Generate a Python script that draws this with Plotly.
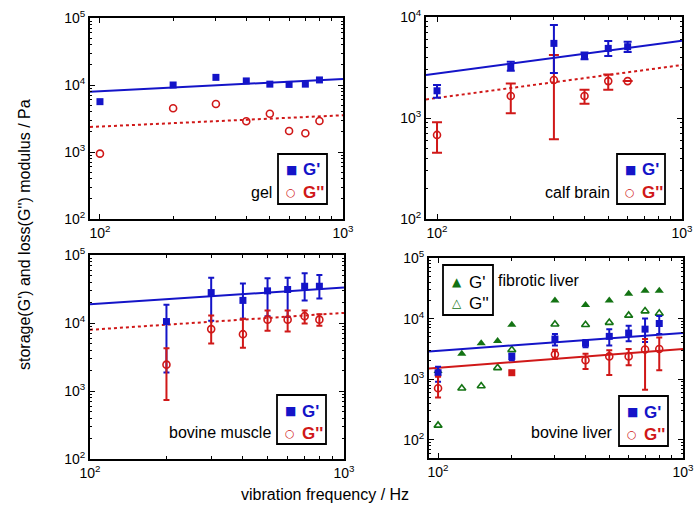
import numpy as np
import plotly.graph_objects as go

W, H = 698, 514
BLUE = "#1414C8"
RED = "#D01818"
GREEN = "#137313"
FONT = "Liberation Sans, Arial, Helvetica, sans-serif"

# ---------------- data ----------------
# gel
gel_freq = [100, 200, 300, 400, 500, 600, 700, 800]
gel_Gp = [5640, 10000, 13000, 11500, 10300, 10200, 10300, 11900]
gel_Gpp = [945, 4490, 5200, 2870, 3730, 2060, 1900, 2900]
gel_fit_Gp = (8070, 0.183)     # value at 100 Hz, exponent
gel_fit_Gpp = (2400, 0.168)

# calf brain
brain_freq = [100, 200, 300, 400, 500, 600]
brain_Gp = [1860, 3220, 5480, 4110, 4890, 5080]
brain_Gp_hi = [2120, 3610, 8330, 4440, 5800, 5700]
brain_Gp_lo = [1590, 2940, 2790, 3810, 4100, 4500]
brain_Gpp = [680, 1650, 2380, 1650, 2320, 2320]
brain_Gpp_hi = [906, 2200, 4200, 1900, 2700, 2320]
brain_Gpp_lo = [454, 1115, 615, 1380, 1900, 2320]
brain_fit_Gp = (2760, 0.324)
brain_fit_Gpp = (1580, 0.326)

# bovine muscle
muscle_freq = [200, 300, 400, 500, 600, 700, 800]
muscle_Gp = [10500, 28000, 21500, 29700, 31100, 34700, 34700]
muscle_Gp_hi = [18600, 46400, 38200, 45400, 46400, 53700, 51000]
muscle_Gp_lo = [1875, 10800, 11500, 12600, 12300, 21400, 23000]
muscle_Gpp = [2440, 8130, 6850, 11200, 11200, 12600, 11200]
muscle_Gpp_hi = [4240, 12860, 11500, 15300, 15300, 15300, 13500]
muscle_Gpp_lo = [735, 4980, 4340, 7670, 7500, 9800, 9100]
muscle_fit_Gp = (18800, 0.248)
muscle_fit_Gpp = (7940, 0.249)

# bovine liver
liver_Gp_freq = [100, 200, 300, 400, 500, 600, 700, 800]
liver_Gp = [1280, 2380, 4600, 3920, 5090, 5770, 6700, 8300]
liver_Gp_hi = [1600, 2630, 5560, 4440, 6700, 7600, 10000, 11000]
liver_Gp_lo = [910, 2050, 3600, 3370, 3600, 4230, 4100, 5560]
liver_Gpp_freq = [100, 300, 400, 500, 600, 700, 800]
liver_Gpp = [708, 2570, 2050, 2380, 2380, 3090, 3160]
liver_Gpp_hi = [1100, 3050, 2630, 3000, 3160, 4600, 4900]
liver_Gpp_lo = [500, 2180, 1470, 1170, 1700, 667, 1410]
liver_Gpp_sq_freq = [200]
liver_Gpp_sq = [1280]
liver_fit_Gp = (2940, 0.293)
liver_fit_Gpp = (1540, 0.312)

# fibrotic liver
fib_freq = [100, 125, 150, 175, 200, 300, 400, 500, 600, 700, 800]
fib_Gp = [1360, 2630, 3920, 4280, 7900, 19900, 16700, 19900, 25800, 28800, 28800]
fib_Gpp = [173, 708, 774, 1540, 3050, 8070, 7900, 8600, 11300, 13300, 12200]

x_tickvals = [100, 1000]
x_ticktext = ["10<sup>2</sup>", "10<sup>3</sup>"]

# ---------------- layout helpers ----------------
def px(x):
    return x / W

def py(y):
    return 1 - y / H

panels = [
    dict(box=(90, 343, 18, 219), xr=[1.959, 3], yr=[2, 5], yexp=[2, 3, 4, 5]),
    dict(box=(426, 682, 17, 219), xr=[1.955, 3], yr=[2, 4], yexp=[2, 3, 4]),
    dict(box=(90, 344, 255, 459), xr=[2.0, 3], yr=[2, 5], yexp=[2, 3, 4, 5]),
    dict(box=(429, 683, 258, 458), xr=[1.963, 3], yr=[1.7, 5.0], yexp=[2, 3, 4, 5]),
]

fig = go.Figure()

def err(val, hi, lo):
    v = np.array(val, float)
    return np.array(hi, float) - v, v - np.array(lo, float)

def add_points(i, x, y, symbol, color, size, open_=False, hi=None, lo=None, capw=3):
    ax = "" if i == 1 else str(i)
    kw = {}
    if hi is not None:
        up, dn = err(y, hi, lo)
        kw["error_y"] = dict(type="data", symmetric=False, array=up, arrayminus=dn,
                             color=color, thickness=2, width=capw)
    marker = dict(symbol=symbol, size=size, color=color)
    if open_:
        marker["line"] = dict(color=color, width=1.6)
    else:
        marker["line"] = dict(width=0)
    fig.add_trace(go.Scatter(x=x, y=y, mode="markers", marker=marker,
                             xaxis="x" + ax, yaxis="y" + ax, showlegend=False, **kw))

def add_fit(i, fit, color, dash):
    ax = "" if i == 1 else str(i)
    xr = panels[i - 1]["xr"]
    f = np.logspace(xr[0], xr[1], 60)
    a, n = fit
    fig.add_trace(go.Scatter(x=f, y=a * (f / 100.0) ** n, mode="lines",
                             line=dict(color=color, width=2, dash=dash),
                             xaxis="x" + ax, yaxis="y" + ax, showlegend=False,
                             hoverinfo="skip"))

# panel 1: gel
add_fit(1, gel_fit_Gp, BLUE, "solid")
add_fit(1, gel_fit_Gpp, RED, "dot")
add_points(1, gel_freq, gel_Gp, "square", BLUE, 7)
add_points(1, gel_freq, gel_Gpp, "circle-open", RED, 7, open_=True)

# panel 2: calf brain
add_fit(2, brain_fit_Gp, BLUE, "solid")
add_fit(2, brain_fit_Gpp, RED, "dot")
add_points(2, brain_freq, brain_Gpp, "circle-open", RED, 7, open_=True, hi=brain_Gpp_hi, lo=brain_Gpp_lo, capw=5)
add_points(2, brain_freq, brain_Gp, "square", BLUE, 7, hi=brain_Gp_hi, lo=brain_Gp_lo, capw=4)

# panel 3: bovine muscle
add_fit(3, muscle_fit_Gp, BLUE, "solid")
add_fit(3, muscle_fit_Gpp, RED, "dot")
add_points(3, muscle_freq, muscle_Gp, "square", BLUE, 7, hi=muscle_Gp_hi, lo=muscle_Gp_lo, capw=3)
add_points(3, muscle_freq, muscle_Gpp, "circle-open", RED, 7, open_=True, hi=muscle_Gpp_hi, lo=muscle_Gpp_lo, capw=3)

# panel 4: liver
add_points(4, fib_freq, fib_Gp, "triangle-up", GREEN, 8)
add_points(4, fib_freq, fib_Gpp, "triangle-up-open", GREEN, 7, open_=True)
add_fit(4, liver_fit_Gp, BLUE, "solid")
add_fit(4, liver_fit_Gpp, RED, "solid")
add_points(4, liver_Gp_freq, liver_Gp, "square", BLUE, 7, hi=liver_Gp_hi, lo=liver_Gp_lo, capw=3)
add_points(4, liver_Gpp_freq, liver_Gpp, "circle-open", RED, 7, open_=True, hi=liver_Gpp_hi, lo=liver_Gpp_lo, capw=3)
add_points(4, liver_Gpp_sq_freq, liver_Gpp_sq, "square", RED, 7)

# ---------------- axes ----------------
layout = dict(width=W, height=H, margin=dict(l=0, r=0, t=0, b=0, autoexpand=False),
              paper_bgcolor="white", plot_bgcolor="white", hovermode=False,
              font=dict(family=FONT, size=14, color="black"))

x_minor = [200, 300, 400, 500, 600, 700, 800, 900]
for i, p in enumerate(panels, start=1):
    x0, x1, y0, y1 = p["box"]
    ax = "" if i == 1 else str(i)
    yt = [10 ** e for e in p["yexp"]]
    ytt = ["10<sup>%d</sup>" % e for e in p["yexp"]]
    lo_e = int(np.floor(p["yr"][0]))
    hi_e = int(np.ceil(p["yr"][1]))
    y_minor = [m * 10 ** e for e in range(lo_e, hi_e) for m in range(2, 10)]
    common = dict(type="log", showgrid=False, zeroline=False, showline=True,
                  linecolor="black", linewidth=2, mirror="allticks", automargin=False,
                  ticks="inside", ticklen=5, tickwidth=1, tickcolor="black",
                  tickfont=dict(family=FONT, size=14, color="black"))
    layout["xaxis" + ax] = dict(common, domain=[px(x0), px(x1)], range=p["xr"],
                                anchor="y" + ax, tickmode="array",
                                tickvals=x_tickvals, ticktext=x_ticktext,
                                minor=dict(tickmode="array", tickvals=x_minor,
                                           ticks="inside", ticklen=3, tickcolor="black"))
    layout["yaxis" + ax] = dict(common, domain=[py(y1), py(y0)], range=p["yr"],
                                anchor="x" + ax, tickmode="array",
                                tickvals=yt, ticktext=ytt,
                                minor=dict(tickmode="array", tickvals=y_minor,
                                           ticks="inside", ticklen=2, tickcolor="black"))

fig.update_layout(**layout)

# ---------------- legend boxes (shapes + glyph/text annotations) ----------------
shapes = []
annotations = []

def legend_box(x0, x1, y0, y1):
    shapes.append(dict(type="rect", xref="paper", yref="paper",
                       x0=px(x0), x1=px(x1), y0=py(y1), y1=py(y0),
                       line=dict(color="black", width=1.8), fillcolor="white", layer="above"))

def glyph(x, y, ch, color, size):
    annotations.append(dict(x=px(x), y=py(y), xref="paper", yref="paper", text=ch,
                            showarrow=False, xanchor="center", yanchor="middle",
                            font=dict(family="DejaVu Sans", size=size, color=color)))

def label(x, y, txt, color="black", anchor="left", size=16, bold=False):
    t = "<b>%s</b>" % txt if bold else txt
    annotations.append(dict(x=px(x), y=py(y), xref="paper", yref="paper", text=t,
                            showarrow=False, xanchor=anchor, yanchor="middle",
                            font=dict(family=FONT, size=size, color=color)))

def gg_legend(x0, x1, y0, y1):
    legend_box(x0, x1, y0, y1)
    glyph(x0 + 13, y0 + 16, "■", BLUE, 12)
    glyph(x0 + 13, y0 + 38, "○", RED, 11)
    label(x0 + 23, y0 + 16, "G'", BLUE, bold=True, size=17)
    label(x0 + 23, y0 + 38, "G''", RED, bold=True, size=17)

gg_legend(278, 327, 154, 204)
label(274, 192, "gel", anchor="right")
gg_legend(617, 665, 154, 204)
label(612, 192, "calf brain", anchor="right")
gg_legend(277, 326, 395, 444)
label(273, 432, "bovine muscle", anchor="right")
gg_legend(619, 668, 396, 446)
label(615, 432, "bovine liver", anchor="right")

# fibrotic legend
legend_box(443, 493, 265, 315)
glyph(457, 282, "▲", GREEN, 12)
glyph(457, 303, "△", GREEN, 12)
label(467, 282, "G'", "black", size=17)
label(467, 303, "G''", "black", size=17)
label(496, 280, "fibrotic liver")

# axis titles
annotations.append(dict(x=px(325), y=py(494), xref="paper", yref="paper",
                        text="vibration frequency / Hz", showarrow=False,
                        xanchor="center", yanchor="middle",
                        font=dict(family=FONT, size=16, color="black")))
annotations.append(dict(x=px(25), y=py(235), xref="paper", yref="paper",
                        text="storage(G') and loss(G'') modulus / Pa", showarrow=False,
                        textangle=-90, xanchor="center", yanchor="middle",
                        font=dict(family=FONT, size=16, color="black")))

fig.update_layout(shapes=shapes, annotations=annotations)

fig.write_html("out.html", config={"displayModeBar": False},
               post_script="document.body.style.margin='0';")
